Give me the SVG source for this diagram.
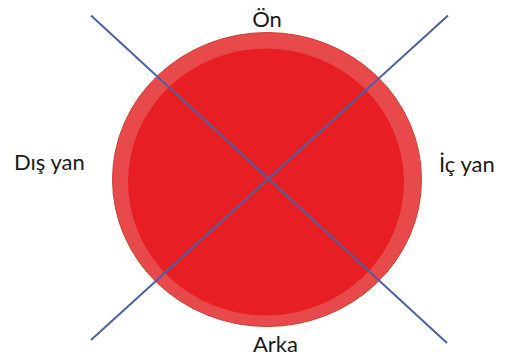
<svg xmlns="http://www.w3.org/2000/svg" width="506" height="359" viewBox="0 0 506 359">
<style>
.lbl{font-family:Lato,"Open Sans","Liberation Sans",sans-serif;font-size:22px;fill:#1a1a1a}
.ax{stroke:#4a62a0;stroke-width:2;fill:none}
</style>
<rect width="506" height="359" fill="#ffffff"/>
<g id="disc">
<ellipse cx="267" cy="179.5" rx="154.5" ry="147" fill="#e84a4c" stroke="#c8402e" stroke-width="1"/>
<ellipse cx="266" cy="182" rx="138" ry="133.5" fill="#e81e25"/>
</g>
<g id="connectors">
<line class="ax" x1="91" y1="15.5" x2="447" y2="343"/>
<line class="ax" x1="448" y1="15.5" x2="91" y2="340"/>
</g>
<g id="on"><text class="lbl" x="267" y="27" text-anchor="middle">Ön</text></g>
<g id="dis-yan"><text class="lbl" x="14" y="170">Dış yan</text></g>
<g id="ic-yan"><text class="lbl" x="439" y="171.5">İç yan</text></g>
<g id="arka"><text class="lbl" x="275.5" y="352" text-anchor="middle">Arka</text></g>
</svg>
